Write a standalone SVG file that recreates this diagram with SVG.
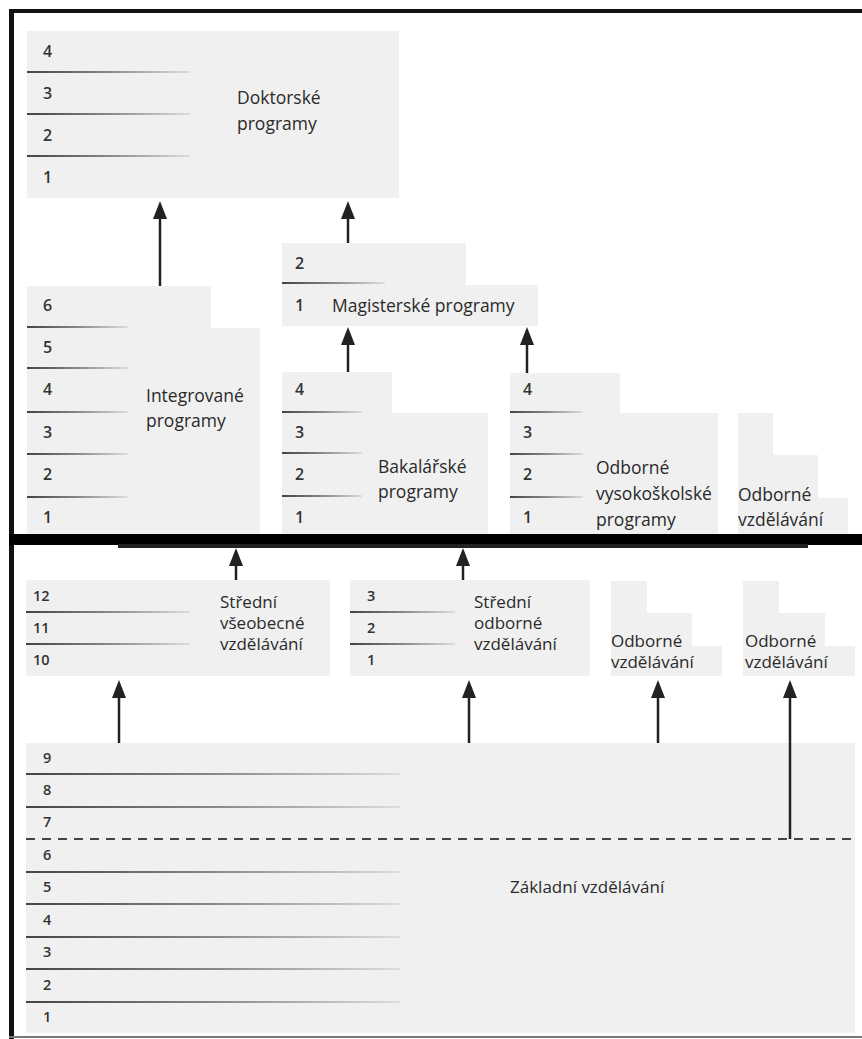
<svg xmlns="http://www.w3.org/2000/svg" width="862" height="1039" viewBox="0 0 862 1039">
<defs>
<linearGradient id="fade" x1="0" y1="0" x2="1" y2="0">
<stop offset="0" stop-color="#444"/>
<stop offset="0.5" stop-color="#888"/>
<stop offset="1" stop-color="#ddd"/>
</linearGradient>
<marker id="arr" markerUnits="userSpaceOnUse" markerWidth="18" markerHeight="14" refX="3" refY="7" orient="auto" viewBox="0 0 18 14">
<path d="M0,0 L18,7 L0,14 z" fill="#222"/>
</marker>
<style>
.blk{fill:#f0f0f0}
.sep{fill:url(#fade)}
.lbl{font-family:"Open Sans","Liberation Sans",sans-serif;font-size:17.5px;fill:#2a2a2a}
.lbs{font-family:"Open Sans","Liberation Sans",sans-serif;font-size:17px;fill:#2a2a2a}
.num{font-family:"Open Sans","Liberation Sans",sans-serif;font-size:16px;font-weight:600;fill:#333}
.nus{font-family:"Open Sans","Liberation Sans",sans-serif;font-size:14.5px;font-weight:600;fill:#333}
.con{stroke:#222;stroke-width:2.5;fill:none;marker-end:url(#arr)}
</style>
</defs>
<rect width="862" height="1039" fill="#fff"/>

<g id="doktorske">
<rect class="blk" x="27" y="31" width="372" height="167"/>
<rect class="sep" x="27" y="71" width="163" height="2"/>
<rect class="sep" x="27" y="113" width="163" height="2"/>
<rect class="sep" x="27" y="155" width="163" height="2"/>
<text class="num" x="43" y="57">4</text>
<text class="num" x="43" y="99">3</text>
<text class="num" x="43" y="141">2</text>
<text class="num" x="43" y="183">1</text>
<text class="lbl" x="237" y="104">Doktorské</text>
<text class="lbl" x="237" y="130">programy</text>
</g>

<g id="integrovane">
<polygon class="blk" points="27,286 211,286 211,328 260,328 260,534 27,534"/>
<rect class="sep" x="27" y="326" width="101" height="2"/>
<rect class="sep" x="27" y="367" width="101" height="2"/>
<rect class="sep" x="27" y="411" width="101" height="2"/>
<rect class="sep" x="27" y="453" width="101" height="2"/>
<rect class="sep" x="27" y="496" width="101" height="2"/>
<text class="num" x="43" y="311">6</text>
<text class="num" x="43" y="353">5</text>
<text class="num" x="43" y="395">4</text>
<text class="num" x="43" y="438">3</text>
<text class="num" x="43" y="480">2</text>
<text class="num" x="43" y="523">1</text>
<text class="lbl" x="146" y="402">Integrované</text>
<text class="lbl" x="146" y="427">programy</text>
</g>

<g id="magisterske">
<polygon class="blk" points="282,243 466,243 466,285 538,285 538,326 282,326"/>
<rect class="sep" x="282" y="282" width="103" height="2"/>
<text class="num" x="295" y="269">2</text>
<text class="num" x="295" y="311">1</text>
<text class="lbl" x="332" y="312">Magisterské programy</text>
</g>

<g id="bakalarske">
<polygon class="blk" points="282,372 392,372 392,413 488,413 488,534 282,534"/>
<rect class="sep" x="282" y="411" width="80" height="2"/>
<rect class="sep" x="282" y="452" width="80" height="2"/>
<rect class="sep" x="282" y="495" width="80" height="2"/>
<text class="num" x="295" y="395">4</text>
<text class="num" x="295" y="438">3</text>
<text class="num" x="295" y="480">2</text>
<text class="num" x="295" y="523">1</text>
<text class="lbl" x="378" y="473">Bakalářské</text>
<text class="lbl" x="378" y="498">programy</text>
</g>

<g id="odborne-vs">
<polygon class="blk" points="510,373 620,373 620,413 718,413 718,534 510,534"/>
<rect class="sep" x="510" y="411" width="73" height="2"/>
<rect class="sep" x="510" y="453" width="73" height="2"/>
<rect class="sep" x="510" y="496" width="73" height="2"/>
<text class="num" x="523" y="395">4</text>
<text class="num" x="523" y="438">3</text>
<text class="num" x="523" y="480">2</text>
<text class="num" x="523" y="523">1</text>
<text class="lbl" x="596" y="474">Odborné</text>
<text class="lbl" x="596" y="500">vysokoškolské</text>
<text class="lbl" x="596" y="526">programy</text>
</g>

<g id="odborne-terc">
<polygon class="blk" points="738,413 773,413 773,455 818,455 818,498 848,498 848,534 738,534"/>
<text class="lbl" x="738" y="501">Odborné</text>
<text class="lbl" x="738" y="526">vzdělávání</text>
</g>

<g id="stredni-vseobecne">
<rect class="blk" x="26" y="580" width="304" height="96"/>
<rect class="sep" x="26" y="611" width="164" height="2"/>
<rect class="sep" x="26" y="643" width="164" height="2"/>
<text class="nus" x="33" y="601">12</text>
<text class="nus" x="33" y="633">11</text>
<text class="nus" x="33" y="665">10</text>
<text class="lbs" x="220" y="608">Střední</text>
<text class="lbs" x="220" y="629">všeobecné</text>
<text class="lbs" x="220" y="650">vzdělávání</text>
</g>

<g id="stredni-odborne">
<rect class="blk" x="350" y="580" width="240" height="96"/>
<rect class="sep" x="350" y="611" width="105" height="2"/>
<rect class="sep" x="350" y="643" width="105" height="2"/>
<text class="nus" x="367" y="601">3</text>
<text class="nus" x="367" y="633">2</text>
<text class="nus" x="367" y="665">1</text>
<text class="lbs" x="474" y="608">Střední</text>
<text class="lbs" x="474" y="629">odborné</text>
<text class="lbs" x="474" y="650">vzdělávání</text>
</g>

<g id="odborne-mid">
<polygon class="blk" points="611,581 647,581 647,613 692,613 692,646 722,646 722,676 611,676"/>
<text class="lbs" x="611" y="647">Odborné</text>
<text class="lbs" x="611" y="668">vzdělávání</text>
</g>

<g id="odborne-right">
<polygon class="blk" points="743,581 779,581 779,613 825,613 825,646 855,646 855,676 743,676"/>
<text class="lbs" x="745" y="647">Odborné</text>
<text class="lbs" x="745" y="668">vzdělávání</text>
</g>

<g id="zakladni">
<rect class="blk" x="26" y="743" width="829" height="290"/>
<rect class="sep" x="26" y="773" width="374" height="2"/>
<rect class="sep" x="26" y="806" width="374" height="2"/>
<rect class="sep" x="26" y="871" width="374" height="2"/>
<rect class="sep" x="26" y="903" width="374" height="2"/>
<rect class="sep" x="26" y="936" width="374" height="2"/>
<rect class="sep" x="26" y="968" width="374" height="2"/>
<rect class="sep" x="26" y="1001" width="374" height="2"/>
<line x1="26" y1="839" x2="856" y2="839" stroke="#444" stroke-width="2" stroke-dasharray="9 7"/>
<text class="nus" x="43" y="763">9</text>
<text class="nus" x="43" y="795">8</text>
<text class="nus" x="43" y="827">7</text>
<text class="nus" x="43" y="860">6</text>
<text class="nus" x="43" y="892">5</text>
<text class="nus" x="43" y="925">4</text>
<text class="nus" x="43" y="957">3</text>
<text class="nus" x="43" y="990">2</text>
<text class="nus" x="43" y="1022">1</text>
<text class="lbs" x="510" y="893">Základní vzdělávání</text>
</g>

<g id="frame">
<rect x="9" y="9" width="853" height="4" fill="#111"/>
<rect x="9" y="9" width="5" height="1030" fill="#111"/>
<rect x="9" y="534" width="853" height="11" fill="#000"/>
<rect x="118" y="544" width="690" height="4" fill="#222"/>
<rect x="9" y="1036" width="853" height="2" fill="#777"/>
</g>

<g id="connectors">
<line class="con" x1="160" y1="286" x2="160" y2="216"/>
<line class="con" x1="348" y1="243" x2="348" y2="216"/>
<line class="con" x1="348" y1="372" x2="348" y2="342"/>
<line class="con" x1="527" y1="373" x2="527" y2="342"/>
<line class="con" x1="236" y1="580" x2="236" y2="563"/>
<line class="con" x1="463" y1="580" x2="463" y2="563"/>
<line class="con" x1="119" y1="743" x2="119" y2="695"/>
<line class="con" x1="469" y1="743" x2="469" y2="695"/>
<line class="con" x1="658" y1="743" x2="658" y2="695"/>
<line class="con" x1="790" y1="839" x2="790" y2="695"/>
</g>
</svg>
